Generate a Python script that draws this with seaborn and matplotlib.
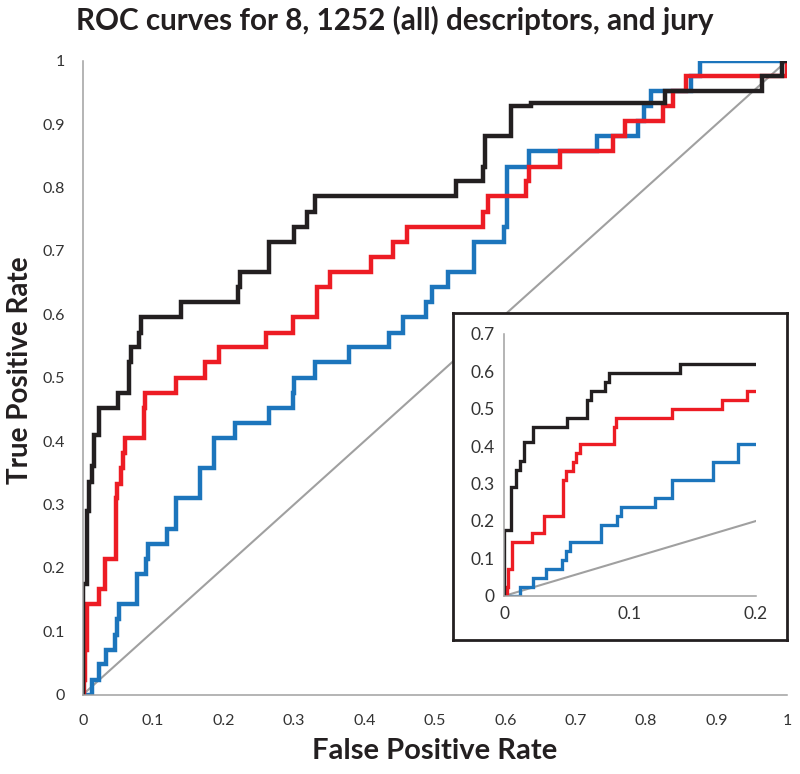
import matplotlib
matplotlib.use("Agg")
import matplotlib.pyplot as plt
import pandas as pd
import seaborn as sns

# step points (steps-post): at fpr[i] the curve jumps up to tpr[i]
jury_fpr = [0, 0, 0.0058, 0.0095, 0.013, 0.016, 0.023, 0.050, 0.066, 0.069, 0.080, 0.083,
            0.140, 0.221, 0.224, 0.264, 0.300, 0.319, 0.330, 0.530, 0.568, 0.571, 0.608,
            0.637, 0.827, 0.965, 0.993, 1.0]
jury_tpr = [0, 0.175, 0.290, 0.336, 0.360, 0.410, 0.452, 0.476, 0.524, 0.548, 0.571, 0.595,
            0.619, 0.643, 0.667, 0.714, 0.738, 0.762, 0.786, 0.810, 0.833, 0.881, 0.929,
            0.933, 0.952, 0.976, 1.0, 1.0]

d8_fpr = [0, 0.002, 0.003, 0.006, 0.0225, 0.032, 0.047, 0.049, 0.055, 0.057, 0.060, 0.087,
          0.089, 0.133, 0.173, 0.193, 0.260, 0.298, 0.333, 0.351, 0.410, 0.441, 0.461,
          0.569, 0.576, 0.630, 0.633, 0.677, 0.753, 0.770, 0.824, 0.838, 0.857, 1.0, 1.0]
d8_tpr = [0, 0.024, 0.071, 0.143, 0.167, 0.214, 0.310, 0.333, 0.357, 0.381, 0.405, 0.452,
          0.476, 0.500, 0.524, 0.548, 0.571, 0.595, 0.643, 0.667, 0.690, 0.714, 0.738,
          0.762, 0.786, 0.810, 0.833, 0.857, 0.881, 0.905, 0.929, 0.952, 0.976, 0.976, 1.0]

all_fpr = [0, 0.013, 0.023, 0.033, 0.046, 0.049, 0.052, 0.077, 0.090, 0.093, 0.120, 0.133,
           0.166, 0.186, 0.216, 0.264, 0.298, 0.300, 0.330, 0.378, 0.435, 0.455, 0.488,
           0.496, 0.518, 0.556, 0.598, 0.602, 0.633, 0.730, 0.789, 0.797, 0.807, 0.864,
           0.877, 1.0]
all_tpr = [0, 0.024, 0.048, 0.071, 0.095, 0.119, 0.143, 0.190, 0.214, 0.238, 0.262, 0.310,
           0.357, 0.405, 0.429, 0.452, 0.476, 0.500, 0.524, 0.548, 0.571, 0.595, 0.619,
           0.643, 0.667, 0.714, 0.738, 0.833, 0.857, 0.881, 0.905, 0.929, 0.952, 0.976,
           1.0, 1.0]

diag = [0, 1]

main_ticks = [0, 0.1, 0.2, 0.3, 0.4, 0.5, 0.6, 0.7, 0.8, 0.9, 1]
main_tick_labels = ["0", "0.1", "0.2", "0.3", "0.4", "0.5", "0.6", "0.7", "0.8", "0.9", "1"]
inset_xticks = [0, 0.1, 0.2]
inset_xlabels = ["0", "0.1", "0.2"]
inset_yticks = [0, 0.1, 0.2, 0.3, 0.4, 0.5, 0.6, 0.7]
inset_ylabels = ["0", "0.1", "0.2", "0.3", "0.4", "0.5", "0.6", "0.7"]

curves = [
    (all_fpr, all_tpr, "#1c75bc"),
    (d8_fpr, d8_tpr, "#ed1c24"),
    (jury_fpr, jury_tpr, "#231f20"),
]
GRAY = "#a0a0a0"

sns.set_style("white")
plt.rcParams["font.family"] = ["Lato", "DejaVu Sans"]


def draw(ax, lw, diag_lw):
    sns.lineplot(x=diag, y=diag, ax=ax, color=GRAY, linewidth=diag_lw)
    for fpr, tpr, color in curves:
        df = pd.DataFrame({"fpr": fpr, "tpr": tpr})
        sns.lineplot(data=df, x="fpr", y="tpr", ax=ax, sort=False, estimator=None,
                     color=color, linewidth=lw, drawstyle="steps-post",
                     solid_joinstyle="miter")
    for side in ["top", "right"]:
        ax.spines[side].set_visible(False)
    for side in ["left", "bottom"]:
        ax.spines[side].set_color(GRAY)
        ax.spines[side].set_linewidth(1.1)
    ax.set_xlabel("")
    ax.set_ylabel("")


fig = plt.figure(figsize=(8, 7.74), dpi=100)

ax = fig.add_axes([0.1034, 0.1024, 0.8804, 0.8192])
draw(ax, 3.2, 1.5)
ax.set_xlim(0, 1)
ax.set_ylim(0, 1)
ax.set_xticks(main_ticks, main_tick_labels)
ax.set_yticks(main_ticks, main_tick_labels)
ax.tick_params(direction="out", length=4, width=1, color=GRAY, labelsize=11.5,
               labelcolor="#333333")
ax.tick_params(axis="x", pad=10)
ax.tick_params(axis="y", pad=9)
ax.set_xlabel("False Positive Rate", fontsize=21, fontweight="bold", color="#231f20")
ax.set_ylabel("True Positive Rate", fontsize=20, fontweight="bold", color="#231f20")
ax.xaxis.set_label_coords(0.5, -0.068)
ax.yaxis.set_label_coords(-0.07, 0.512)

fig.text(0.095, 0.961, "ROC curves for 8, 1252 (all) descriptors, and jury",
         fontsize=21.3, fontweight="bold", color="#231f20", ha="left", va="baseline")

# white frame behind the inset
box = fig.add_axes([0.566, 0.1731, 0.4175, 0.4225])
box.set_xticks([])
box.set_yticks([])
box.set_facecolor("white")
for s in box.spines.values():
    s.set_color("#231f20")
    s.set_linewidth(2)

inset = fig.add_axes([0.63, 0.23, 0.315, 0.3391])
inset.set_facecolor("none")
draw(inset, 2.4, 1.5)
inset.set_xlim(0, 0.2)
inset.set_ylim(0, 0.7)
inset.set_xticks(inset_xticks, inset_xlabels)
inset.set_yticks(inset_yticks, inset_ylabels)
inset.tick_params(direction="out", length=4, width=1, color=GRAY, labelsize=12.5,
                  labelcolor="#333333", pad=3)

fig.savefig("out.png", dpi=100)
